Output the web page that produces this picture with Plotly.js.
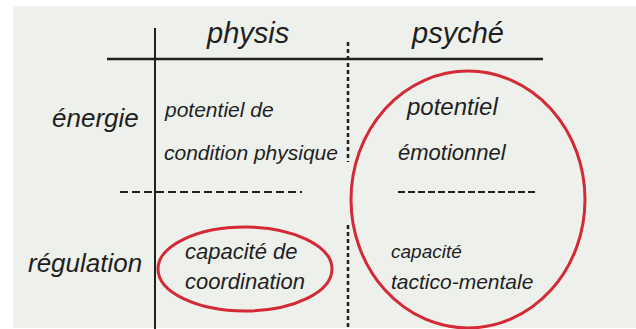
<!DOCTYPE html>
<html>
<head>
<meta charset="utf-8">
<script src="https://cdn.plot.ly/plotly-3.0.1.min.js"></script>
<style>
  html, body { margin: 0; padding: 0; background: #ffffff; }
  #chartDiv { width: 636px; height: 329px; }
</style>
</head>
<body>
<div id="chartDiv"></div>
<script>
// diagram content
var columns = ['physis', 'psyché'];
var rows = ['énergie', 'régulation'];
var cellLines = [ // cellLines[row][col] = lines of text in the cell
    [['potentiel de', 'condition physique'], ['potentiel', 'émotionnel']],
    [['capacité de', 'coordination'], ['capacité', 'tactico-mentale']]
];
var circled = [[0, 1], [1, 0]]; // [row, col] of the circled cells (the psyché one spans both rows)

// placement in pixels (the axes run 0..636 and 0..329)
var colX = [247, 457];
var colY = [33, 33];
var rowX = [141, 144];
var rowY = [118, 263];
var cellX = [[162, 452], [183, 389]];
var cellAnchor = [['left', 'center'], ['left', 'left']];
var cellY = [[[109, 152], [106, 152]], [[251, 281], [251, 281]]];
var cellSize = [[[21, 21], [24, 22]], [[22, 22], [19, 21]]];

var ink = '#1f1f1f';
var red = '#d42a36';
var hand = 'Liberation Sans, Arial, sans-serif';

var shapes = [];
var annotations = [];

// paper background with a white margin on the left and top
shapes.push({type: 'rect', xref: 'x', yref: 'y', x0: 13, x1: 636, y0: 6, y1: 328,
    fillcolor: '#edf0eb', line: {width: 0}, layer: 'below'});

// grid strokes
shapes.push({type: 'line', x0: 107, x1: 543, y0: 59, y1: 59, line: {color: ink, width: 2.5}});
shapes.push({type: 'line', x0: 155, x1: 155, y0: 28, y1: 329, line: {color: ink, width: 2}});
shapes.push({type: 'line', x0: 348, x1: 348, y0: 42, y1: 162, line: {color: ink, width: 2.5, dash: '4px,3px'}});
shapes.push({type: 'line', x0: 348, x1: 348, y0: 225, y1: 329, line: {color: ink, width: 2.5, dash: '4px,3px'}});
shapes.push({type: 'line', x0: 120, x1: 302, y0: 192, y1: 192, line: {color: ink, width: 2, dash: '8px,4px'}});
shapes.push({type: 'line', x0: 398, x1: 536, y0: 192, y1: 192, line: {color: ink, width: 2, dash: '7px,3px'}});

// red rings round the circled cells
var ringBox = {'0,1': [351, 585, 71, 328], '1,0': [158, 332, 227, 311]};
circled.forEach(function (rc) {
    var b = ringBox[rc[0] + ',' + rc[1]];
    shapes.push({type: 'circle', x0: b[0], x1: b[1], y0: b[2], y1: b[3],
        line: {color: red, width: 3}});
});

// column headings
columns.forEach(function (name, j) {
    annotations.push({x: colX[j], y: colY[j], text: '<i>' + name + '</i>', showarrow: false,
        xanchor: 'center', yanchor: 'middle', font: {family: hand, size: 29, color: ink}});
});

// row headings
rows.forEach(function (name, i) {
    annotations.push({x: rowX[i], y: rowY[i], text: '<i>' + name + '</i>', showarrow: false,
        xanchor: 'right', yanchor: 'middle', font: {family: hand, size: 26, color: ink}});
});

// cell texts, one annotation per hand-written line
cellLines.forEach(function (row, i) {
    row.forEach(function (lines, j) {
        lines.forEach(function (line, k) {
            annotations.push({x: cellX[i][j], y: cellY[i][j][k], text: '<i>' + line + '</i>',
                showarrow: false, xanchor: cellAnchor[i][j], yanchor: 'middle',
                font: {family: hand, size: cellSize[i][j][k], color: ink}});
        });
    });
});

var layout = {
    width: 636,
    height: 329,
    margin: {l: 0, r: 0, t: 0, b: 0},
    paper_bgcolor: '#ffffff',
    plot_bgcolor: '#ffffff',
    showlegend: false,
    xaxis: {range: [0, 636], visible: false, fixedrange: true},
    yaxis: {range: [329, 0], visible: false, fixedrange: true},
    shapes: shapes,
    annotations: annotations
};

Plotly.newPlot('chartDiv', [], layout, {displayModeBar: false, staticPlot: true});
</script>
</body>
</html>
